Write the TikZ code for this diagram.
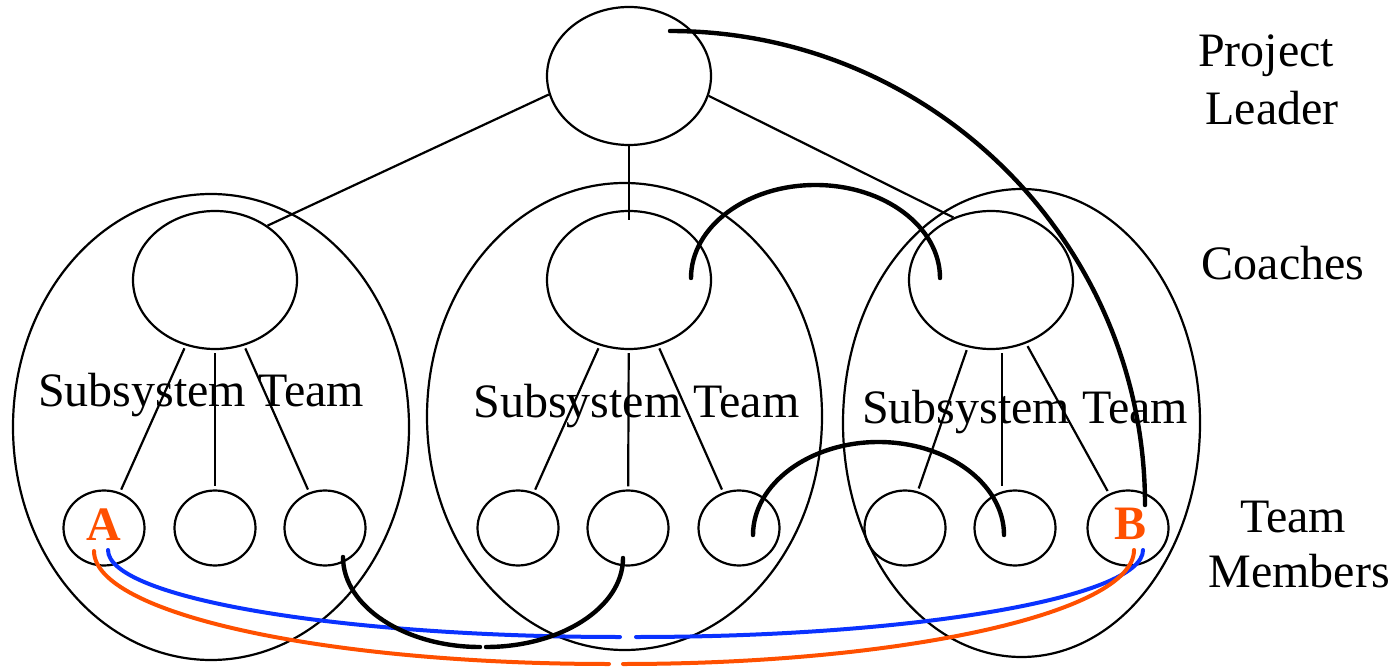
\documentclass[tikz,border=0pt]{standalone}
\usepackage{fontspec}
\setmainfont{Liberation Serif}
\usetikzlibrary{shapes.geometric}
\definecolor{linkorange}{RGB}{255,80,0}
\definecolor{linkblue}{RGB}{10,50,255}
\begin{document}
\begin{tikzpicture}[x=0.5pt,y=-0.5pt,
  ringline/.style={line width=1.1pt},
  teambox/.style={draw, ellipse, ringline, inner sep=0pt},
  coachbox/.style={draw, ellipse, ringline, inner sep=0pt, minimum width=82pt, minimum height=69pt},
  memberbox/.style={draw, ellipse, ringline, inner sep=0pt, minimum width=40.5pt, minimum height=37.5pt},
  lbl/.style={font=\fontsize{24}{29}\selectfont, inner sep=0pt, anchor=base},
  tag/.style={font=\fontsize{24}{29}\selectfont\bfseries, text=linkorange, inner sep=0pt, anchor=base},
  tie/.style={ringline, shorten <=1.5pt, shorten >=1.5pt},
  bond/.style={line width=2.2pt, line cap=round},
  bluelink/.style={line width=2pt, line cap=round, draw=linkblue},
  orangelink/.style={line width=2pt, line cap=round, draw=linkorange}]
\useasboundingbox (0,0) rectangle (1395,667);

% subsystem teams
\node[teambox, minimum width=198pt, minimum height=233pt] (t1) at (211,427) {};
\node[teambox, minimum width=197.5pt, minimum height=233.5pt] (t2) at (624.5,416.5) {};
\node[teambox, minimum width=178.5pt, minimum height=234pt] (t3) at (1021.5,423) {};

% project leader
\node[teambox, minimum width=82pt, minimum height=69pt] (pl) at (629,76) {};

% coaches
\node[coachbox] (c1) at (215,280) {};
\node[coachbox] (c2) at (629,280) {};
\node[coachbox] (c3) at (991,280) {};

% team members
\node[memberbox] (m1) at (104,528) {};
\node[memberbox] (m2) at (215,528) {};
\node[memberbox] (m3) at (325,528) {};
\node[memberbox] (m4) at (518,528) {};
\node[memberbox] (m5) at (628,528) {};
\node[memberbox] (m6) at (739,528) {};
\node[memberbox] (m7) at (905,528) {};
\node[memberbox] (m8) at (1015,528) {};
\node[memberbox] (m9) at (1128,528) {};

% texts
\node[lbl] (s1) at (201,407) {Subsystem Team};
\node[lbl] (s2) at (636.5,417) {Subsystem Team};
\node[lbl] (s3) at (1025,423) {Subsystem Team};
\node[tag] (la) at (103.5,540) {A};
\node[tag] (lb) at (1130,539) {B};
\node[lbl] (r1) at (1266,67) {Project};
\node[lbl] (r2) at (1272,125) {Leader};
\node[lbl] (r3) at (1283,280) {Coaches};
\node[lbl] (r4) at (1293,532) {Team};
\node[lbl] (r5) at (1299,587) {Members};

% hierarchy lines
\draw[ringline] (pl.193) -- (c1.46);
\draw[ringline] (pl.south) -- ([yshift=-5pt]c2.north);
\draw[ringline] (pl.346) -- (c3.121);
\foreach \c/\m in {c1/m1,c1/m2,c1/m3,c2/m4,c2/m5,c2/m6,c3/m7,c3/m9}
  \draw[tie] (\c) -- (\m);
\draw[tie] ([xshift=5.5pt]c3.south) -- ([xshift=-6.5pt]m8.north);

% gap ends of the split connectors
\coordinate (bgl) at (620,637);
\coordinate (bgr) at (636,637);
\coordinate (ogl) at (609,664);
\coordinate (ogr) at (623,664);
\coordinate (kgl) at (480,647);
\coordinate (kgr) at (486,647);
\coordinate (ktop1) at (815.5,185);
\coordinate (ktop2) at (878.5,442);

% colored links A-B
\draw[bluelink] ([shift={(4,22)}]m1.center) .. controls +(0,48) and +(-280,0) .. (bgl);
\draw[bluelink] (bgr) .. controls +(276,0) and +(0,48) .. ([shift={(15,22)}]m9.center);
\draw[orangelink] ([shift={(-10,23)}]m1.center) .. controls +(0,63) and +(-282,0) .. (ogl);
\draw[orangelink] (ogr) .. controls +(278,0) and +(0,63) .. ([shift={(6,22)}]m9.center);

% black links
\draw[bond] ([shift={(41,-45)}]pl.center) .. controls +(262,0) and +(0,-262) .. ([shift={(17,-23)}]m9.center);
\draw[bond] ([shift={(62,-2)}]c2.center) .. controls +(0,-51) and +(-69,0) .. (ktop1)
  .. controls +(69,0) and +(0,-51) .. ([shift={(-51,-2)}]c3.center);
\draw[bond] ([shift={(14,7)}]m6.center) .. controls +(0,-51) and +(-69,0) .. (ktop2)
  .. controls +(69,0) and +(0,-51) .. ([shift={(-11,7)}]m8.center);
\draw[bond] ([shift={(18,29)}]m3.center) .. controls +(0,50) and +(-74,0) .. (kgl);
\draw[bond] (kgr) .. controls +(74,0) and +(0,50) .. ([shift={(-5,30)}]m5.center);
\end{tikzpicture}
\end{document}
